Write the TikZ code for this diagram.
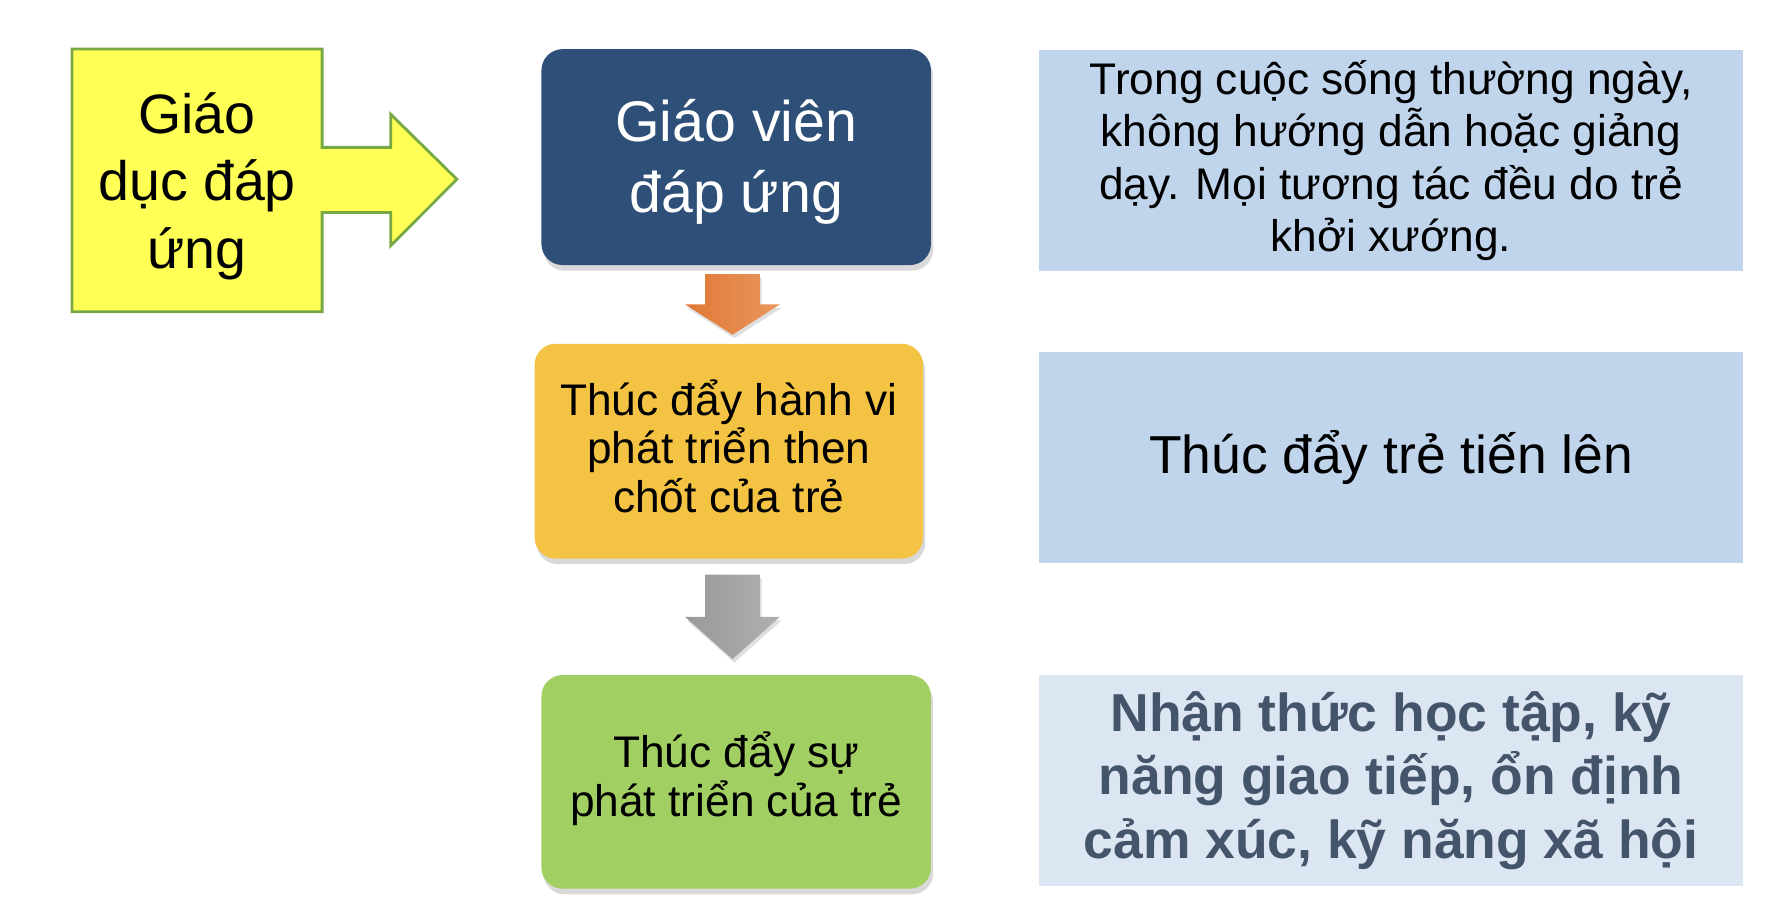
\documentclass[tikz,border=0pt]{standalone}
\usepackage{fontspec}
\setmainfont{Liberation Sans}
\usetikzlibrary{shadows,calc}
\definecolor{ylw}{HTML}{FFFF55}
\definecolor{ylwline}{HTML}{77A844}
\definecolor{navy}{HTML}{2E4F77}
\definecolor{gold}{HTML}{F4C343}
\definecolor{leaf}{HTML}{A2CF62}
\definecolor{paleblue}{HTML}{C0D4EB}
\definecolor{paleblue2}{HTML}{DCE6F2}
\definecolor{slate}{HTML}{44546A}
\definecolor{orangedark}{HTML}{E07834}
\definecolor{orangelight}{HTML}{E9975F}
\begin{document}
\begin{tikzpicture}[
  box/.style={rounded corners=6pt, align=center, inner sep=0pt,
    drop shadow={shadow xshift=0.6pt, shadow yshift=-1.6pt, opacity=0.3}},
  note/.style={align=center, inner sep=0pt, minimum width=7.04cm, minimum height=2.113cm},
  arrowshadow/.style={drop shadow={shadow xshift=0.5pt, shadow yshift=-1pt, opacity=0.25}}
]
\useasboundingbox (0,0) rectangle (17.82,-9.04);

% yellow arrow callout
\draw[fill=ylw, draw=ylwline, line width=0.8pt] (0.720,-0.491) -- (3.221,-0.491) -- (3.221,-1.474)
  -- (3.907,-1.474) -- (3.907,-1.142) -- (4.569,-1.793) -- (3.907,-2.456) -- (3.907,-2.125)
  -- (3.221,-2.125) -- (3.221,-3.118) -- (0.720,-3.118) -- cycle;
\node[align=center, font=\fontsize{15.8}{19.2}\selectfont] (giaoduc) at (1.971,-1.86) {Giáo\\dục đáp\\ứng};

% middle column
\node[box, fill=navy, minimum width=3.895cm, minimum height=2.159cm] (giaovien) at (7.362,-1.571) {};
\node[text=white, align=center, font=\fontsize{16.3}{20.2}\selectfont] at ($(giaovien)+(0,-0.05)$) {Giáo viên\\đáp ứng};
\node[box, fill=gold, minimum width=3.884cm, minimum height=2.148cm,
  font=\fontsize{12.6}{13.9}\selectfont] (hanhvi) at (7.288,-4.512) {};
\node[align=center, font=\fontsize{12.6}{13.9}\selectfont] at ($(hanhvi)+(0,0.05)$) {Thúc đẩy hành vi\\phát triển then\\chốt của trẻ};
\node[box, fill=leaf, minimum width=3.895cm, minimum height=2.136cm] (phattrien) at (7.362,-7.819) {};
\node[align=center, font=\fontsize{12.6}{14}\selectfont] at ($(phattrien)+(0,0.03)$) {Thúc đẩy sự\\phát triển của trẻ};

% block arrows
\coordinate (m1) at ($(giaovien.south)!0.5!(hanhvi.north)$);
\coordinate (m2) at ($(hanhvi.south)!0.5!(phattrien.north)$);
\shade[left color=orangedark, right color=orangelight, arrowshadow]
  ($(m1)+(-0.274,0.303)$) -- ($(m1)+(0.274,0.303)$) -- ($(m1)+(0.274,0)$) -- ($(m1)+(0.474,0)$)
  -- ($(m1)+(0,-0.303)$) -- ($(m1)+(-0.474,0)$) -- ($(m1)+(-0.274,0)$) -- cycle;
\shade[left color=black!40, right color=black!31, arrowshadow]
  ($(m2)+(-0.274,0.423)$) -- ($(m2)+(0.274,0.423)$) -- ($(m2)+(0.274,0)$) -- ($(m2)+(0.474,0)$)
  -- ($(m2)+(0,-0.423)$) -- ($(m2)+(-0.474,0)$) -- ($(m2)+(-0.274,0)$) -- cycle;

% right column
\node[note, fill=paleblue, minimum height=2.205cm, font=\fontsize{12.6}{14.9}\selectfont] (note1) at (13.91,-1.605)
  {Trong cuộc sống thường ngày,\\không hướng dẫn hoặc giảng\\dạy. Mọi tương tác đều do trẻ\\khởi xướng.};
\node[note, fill=paleblue, font=\fontsize{15.2}{18}\selectfont] (note2) at (13.91,-4.575) {Thúc đẩy trẻ tiến lên};
\node[note, fill=paleblue2, text=slate, font=\bfseries\fontsize{15.2}{18.2}\selectfont] (note3) at (13.91,-7.807)
  {Nhận thức học tập, kỹ\\năng giao tiếp, ổn định\\cảm xúc, kỹ năng xã hội};
\end{tikzpicture}
\end{document}
